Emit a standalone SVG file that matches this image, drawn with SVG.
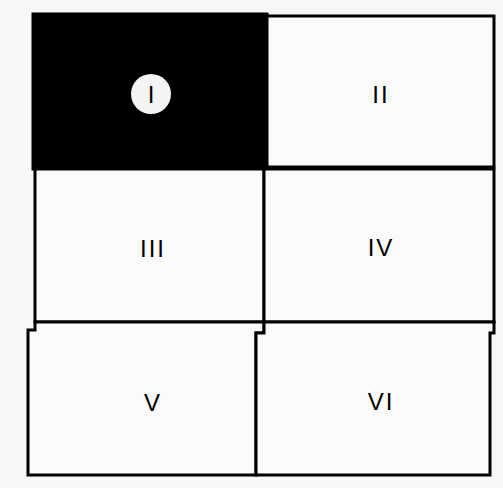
<svg xmlns="http://www.w3.org/2000/svg" width="503" height="488" viewBox="0 0 503 488">
<style>
.c{fill:#fbfbfb;stroke:#000;stroke-width:3;stroke-linejoin:miter}
.t{font-family:"Liberation Sans",Arial,sans-serif;font-size:24px;fill:#000;text-anchor:middle;letter-spacing:2px}
</style>
<rect width="503" height="488" fill="#f7f7f7"/>
<g id="cell1">
<rect x="33" y="14" width="234" height="155" fill="#000" stroke="#000" stroke-width="3"/>
<circle cx="151" cy="94" r="20" fill="#f4f4f4"/>
<text class="t" x="152" y="103">I</text>
</g>
<g id="cell2">
<rect class="c" x="267" y="16" width="227" height="151"/>
<text class="t" x="381" y="103">II</text>
</g>
<g id="cell3">
<rect class="c" x="35" y="169" width="229" height="153"/>
<text class="t" x="153" y="257">III</text>
</g>
<g id="cell4">
<rect class="c" x="264" y="169" width="230" height="153"/>
<text class="t" x="381" y="256">IV</text>
</g>
<g id="cell5">
<path class="c" d="M35,322 L35,330 L28,330 L28,475 L256,475 L256,333 L264,333 L264,322 Z"/>
<text class="t" x="153" y="411">V</text>
</g>
<g id="cell6">
<path class="c" d="M264,322 L264,333 L256,333 L256,475 L490,475 L490,333 L494,333 L494,322 Z"/>
<text class="t" x="381" y="410">VI</text>
</g>
<g id="connectors"></g>
</svg>
